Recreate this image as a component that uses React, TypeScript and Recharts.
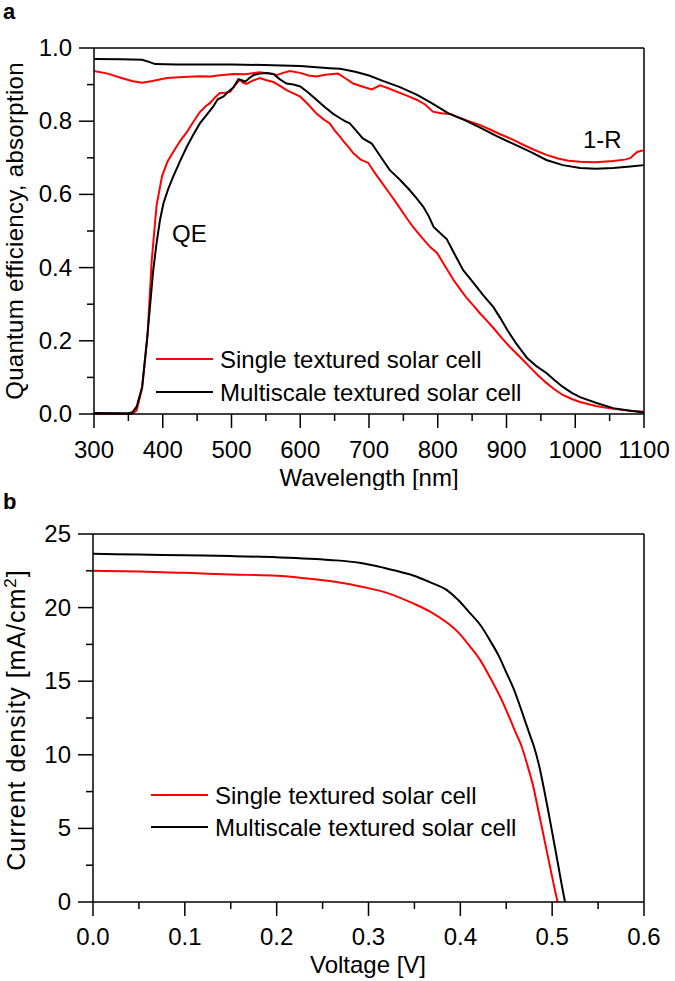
import { Line, LineChart, ReferenceLine, XAxis, YAxis } from "recharts";

// panel a: wavelength [nm], value
const QE_SINGLE: [number, number][] = [
  [300, 0], [340, 0], [355, 0], [362, 0.01], [370, 0.07], [378, 0.22], [384, 0.42], [391, 0.57],
  [399, 0.65], [407, 0.69], [415, 0.715], [425, 0.745], [435, 0.77], [445, 0.8], [454, 0.825],
  [462, 0.84], [469, 0.85], [476, 0.865], [483, 0.877], [491, 0.878], [498, 0.88], [505, 0.898],
  [512, 0.913], [517, 0.905], [522, 0.902], [530, 0.91], [541, 0.918], [551, 0.912], [561, 0.907],
  [570, 0.897], [580, 0.885], [590, 0.876], [600, 0.867], [612, 0.845], [624, 0.82], [634, 0.805],
  [643, 0.794], [650, 0.775], [658, 0.757], [663, 0.745], [670, 0.73], [677, 0.713], [688, 0.695],
  [699, 0.686], [708, 0.66], [716, 0.639], [728, 0.608], [740, 0.576], [752, 0.543], [764, 0.511],
  [776, 0.484], [789, 0.456], [799, 0.44], [811, 0.403], [823, 0.366], [833, 0.34], [842, 0.317],
  [852, 0.296], [861, 0.276], [871, 0.256], [881, 0.235], [893, 0.208], [905, 0.183], [920, 0.155],
  [934, 0.128], [946, 0.105], [958, 0.085], [970, 0.067], [982, 0.052], [995, 0.041], [1007, 0.033],
  [1030, 0.022], [1055, 0.014], [1080, 0.009], [1100, 0.006],
];

const QE_MULTI: [number, number][] = [
  [300, 0.003], [350, 0.002], [356, 0.005], [362, 0.02], [370, 0.074], [377, 0.2], [386, 0.39],
  [391, 0.467], [396, 0.53], [401, 0.576], [408, 0.615], [415, 0.648], [425, 0.69], [435, 0.73],
  [445, 0.765], [454, 0.794], [463, 0.815], [473, 0.839], [480, 0.86], [488, 0.867], [495, 0.88],
  [503, 0.893], [510, 0.915], [515, 0.912], [520, 0.908], [526, 0.918], [532, 0.926], [541, 0.93],
  [551, 0.932], [561, 0.929], [570, 0.915], [580, 0.903], [590, 0.9], [600, 0.895], [612, 0.878],
  [624, 0.858], [636, 0.838], [648, 0.82], [658, 0.808], [665, 0.8], [672, 0.794], [681, 0.775],
  [691, 0.753], [704, 0.739], [717, 0.703], [730, 0.667], [745, 0.64], [759, 0.612], [769, 0.59],
  [779, 0.566], [787, 0.54], [794, 0.511], [803, 0.495], [813, 0.478], [825, 0.435], [837, 0.393],
  [852, 0.358], [866, 0.325], [881, 0.292], [891, 0.262], [901, 0.23], [915, 0.19], [930, 0.153],
  [944, 0.13], [958, 0.112], [970, 0.092], [982, 0.074], [995, 0.058], [1007, 0.046], [1031, 0.03],
  [1055, 0.016], [1080, 0.009], [1100, 0.004],
];

const ABS_SINGLE: [number, number][] = [
  [300, 0.937], [320, 0.93], [340, 0.918], [355, 0.91], [370, 0.905], [385, 0.91], [406, 0.918],
  [430, 0.921], [454, 0.923], [470, 0.922], [480, 0.925], [503, 0.929], [520, 0.928], [541, 0.934],
  [556, 0.93], [566, 0.926], [575, 0.932], [585, 0.937], [600, 0.932], [612, 0.925], [624, 0.922],
  [636, 0.927], [648, 0.929], [655, 0.93], [665, 0.918], [677, 0.903], [690, 0.895], [704, 0.887],
  [716, 0.898], [728, 0.89], [740, 0.881], [755, 0.87], [770, 0.858], [782, 0.845], [793, 0.826],
  [805, 0.822], [818, 0.82], [830, 0.81], [845, 0.8], [861, 0.79], [875, 0.778], [890, 0.765],
  [910, 0.749], [925, 0.735], [940, 0.722], [958, 0.708], [975, 0.698], [990, 0.692], [1007, 0.689],
  [1030, 0.688], [1055, 0.691], [1072, 0.695], [1080, 0.699], [1090, 0.716], [1100, 0.721],
];

const ABS_MULTI: [number, number][] = [
  [300, 0.97], [340, 0.969], [370, 0.968], [380, 0.962], [389, 0.956], [420, 0.955], [500, 0.955],
  [560, 0.953], [600, 0.951], [643, 0.945], [658, 0.943], [680, 0.935], [700, 0.925], [720, 0.91],
  [745, 0.893], [770, 0.872], [790, 0.851], [815, 0.822], [837, 0.805], [861, 0.783], [885, 0.76],
  [910, 0.738], [935, 0.716], [958, 0.694], [982, 0.68], [1007, 0.672], [1030, 0.67], [1055, 0.672],
  [1080, 0.676], [1100, 0.68],
];

// panel b: voltage [V], current density [mA/cm2]
const IV_SINGLE: [number, number][] = [
  [0, 22.5], [0.05, 22.45], [0.1, 22.36], [0.15, 22.25], [0.2, 22.16], [0.23, 22.0], [0.258, 21.8],
  [0.294, 21.4], [0.32, 21.0], [0.348, 20.3], [0.368, 19.7], [0.385, 19.0], [0.398, 18.3],
  [0.41, 17.4], [0.422, 16.4], [0.432, 15.3], [0.446, 13.6], [0.455, 12.3], [0.461, 11.4],
  [0.466, 10.7], [0.473, 9.3], [0.48, 7.7], [0.485, 6.2], [0.49, 4.7], [0.495, 3.2], [0.5, 1.7],
  [0.503, 0.8], [0.506, 0],
];

const IV_MULTI: [number, number][] = [
  [0, 23.65], [0.05, 23.6], [0.1, 23.55], [0.15, 23.5], [0.2, 23.42], [0.258, 23.24], [0.29, 23.05],
  [0.312, 22.78], [0.33, 22.5], [0.348, 22.2], [0.368, 21.7], [0.385, 21.2], [0.398, 20.5],
  [0.41, 19.66], [0.422, 18.8], [0.432, 17.8], [0.442, 16.7], [0.45, 15.6], [0.458, 14.5],
  [0.465, 13.3], [0.471, 12.2], [0.476, 11.3], [0.48, 10.6], [0.486, 9.2], [0.491, 7.7],
  [0.496, 6.1], [0.501, 4.4], [0.506, 2.7], [0.51, 1.3], [0.514, 0],
];

const WL_MAJOR = [300, 400, 500, 600, 700, 800, 900, 1000, 1100];
const WL_TICKS = [300, 350, 400, 450, 500, 550, 600, 650, 700, 750, 800, 850, 900, 950, 1000, 1050, 1100];
const QE_MAJOR = [0, 0.2, 0.4, 0.6, 0.8, 1.0];
const QE_TICKS = [0, 0.1, 0.2, 0.3, 0.4, 0.5, 0.6, 0.7, 0.8, 0.9, 1.0];
const V_MAJOR = [0, 0.1, 0.2, 0.3, 0.4, 0.5, 0.6];
const V_TICKS = [0, 0.05, 0.1, 0.15, 0.2, 0.25, 0.3, 0.35, 0.4, 0.45, 0.5, 0.55, 0.6];
const J_MAJOR = [0, 5, 10, 15, 20, 25];
const J_TICKS = [0, 2.5, 5, 7.5, 10, 12.5, 15, 17.5, 20, 22.5, 25];

const LEGEND_LABELS = ["Single textured solar cell", "Multiscale textured solar cell"];

const RED = "#ff0000";
const BLACK = "#000000";
const FONT = "'Liberation Sans', Arial, sans-serif";
const FS = 24;

const toRows = (pts: [number, number][]) => pts.map(([x, y]) => ({ x, y }));
const isMajor = (v: number, majors: number[]) => majors.some((m) => Math.abs(m - v) < 1e-6);

function xTick(majors: number[], digits: number, labelDy: number) {
  return (props: any) => {
    const { x, y, payload } = props;
    const major = isMajor(payload.value, majors);
    return (
      <g>
        <line x1={x} x2={x} y1={y} y2={y + (major ? 14 : 7)} stroke={BLACK} strokeWidth={1.5} />
        {major && (
          <text x={x} y={y + labelDy} textAnchor="middle" fontSize={FS} fontFamily={FONT} fill={BLACK}>
            {payload.value.toFixed(digits)}
          </text>
        )}
      </g>
    );
  };
}

function yTick(majors: number[], digits: number) {
  return (props: any) => {
    const { x, y, payload } = props;
    const major = isMajor(payload.value, majors);
    return (
      <g>
        <line x1={x} x2={x - (major ? 15 : 7)} y1={y} y2={y} stroke={BLACK} strokeWidth={1.5} />
        {major && (
          <text x={x - 22} y={y + 8} textAnchor="end" fontSize={FS} fontFamily={FONT} fill={BLACK}>
            {payload.value.toFixed(digits)}
          </text>
        )}
      </g>
    );
  };
}

function LegendBlock({ x, y, gap }: { x: number; y: number; gap: number }) {
  return (
    <g fontFamily={FONT} fontSize={FS}>
      {LEGEND_LABELS.map((label, i) => (
        <g key={label}>
          <line x1={x} x2={x + 57} y1={y + i * gap} y2={y + i * gap} stroke={i === 0 ? RED : BLACK} strokeWidth={2} />
          <text x={x + 64} y={y + i * gap + 9} fill={BLACK}>
            {label}
          </text>
        </g>
      ))}
    </g>
  );
}

const axisLine = { stroke: BLACK, strokeWidth: 1.5 };

function PanelA() {
  return (
    <LineChart width={675} height={490} margin={{ top: 48, right: 31, left: 0, bottom: 0 }}>
      <XAxis
        dataKey="x"
        type="number"
        domain={[300, 1100]}
        ticks={WL_TICKS}
        interval={0}
        allowDuplicatedCategory={false}
        height={76}
        axisLine={axisLine}
        tickLine={false}
        tickSize={0}
        tickMargin={0}
        tick={xTick(WL_MAJOR, 0, 44)}
      />
      <YAxis
        type="number"
        domain={[0, 1]}
        ticks={QE_TICKS}
        interval={0}
        width={94}
        axisLine={axisLine}
        tickLine={false}
        tickSize={0}
        tickMargin={0}
        tick={yTick(QE_MAJOR, 1)}
      />
      <ReferenceLine y={1} stroke={BLACK} strokeWidth={1.5} />
      <ReferenceLine x={1100} stroke={BLACK} strokeWidth={1.5} />
      <Line data={toRows(ABS_SINGLE)} dataKey="y" stroke={RED} strokeWidth={2} dot={false} type="linear" isAnimationActive={false} />
      <Line data={toRows(QE_SINGLE)} dataKey="y" stroke={RED} strokeWidth={2} dot={false} type="linear" isAnimationActive={false} />
      <Line data={toRows(ABS_MULTI)} dataKey="y" stroke={BLACK} strokeWidth={2} dot={false} type="linear" isAnimationActive={false} />
      <Line data={toRows(QE_MULTI)} dataKey="y" stroke={BLACK} strokeWidth={2} dot={false} type="linear" isAnimationActive={false} />
      <text x={3} y={19} fontSize={22} fontWeight="bold" fontFamily={FONT}>a</text>
      <text x={172} y={242} fontSize={FS} fontFamily={FONT}>QE</text>
      <text x={583} y={148} fontSize={FS} fontFamily={FONT}>1-R</text>
      <text x={23} y={231} transform="rotate(-90, 23, 231)" textAnchor="middle" fontSize={FS} letterSpacing={0.3} fontFamily={FONT}>
        Quantum efficiency, absorption
      </text>
      <text x={369} y={486} textAnchor="middle" fontSize={FS} fontFamily={FONT}>Wavelength [nm]</text>
      <LegendBlock x={156} y={359} gap={33} />
    </LineChart>
  );
}

function PanelB() {
  return (
    <LineChart width={675} height={491} margin={{ top: 44, right: 31, left: 0, bottom: 0 }}>
      <XAxis
        dataKey="x"
        type="number"
        domain={[0, 0.6]}
        ticks={V_TICKS}
        interval={0}
        allowDuplicatedCategory={false}
        height={79}
        axisLine={axisLine}
        tickLine={false}
        tickSize={0}
        tickMargin={0}
        tick={xTick(V_MAJOR, 1, 43)}
      />
      <YAxis
        type="number"
        domain={[0, 25]}
        ticks={J_TICKS}
        interval={0}
        width={93}
        axisLine={axisLine}
        tickLine={false}
        tickSize={0}
        tickMargin={0}
        tick={yTick(J_MAJOR, 0)}
      />
      <ReferenceLine y={25} stroke={BLACK} strokeWidth={1.5} />
      <ReferenceLine x={0.6} stroke={BLACK} strokeWidth={1.5} />
      <Line data={toRows(IV_SINGLE)} dataKey="y" stroke={RED} strokeWidth={2} dot={false} type="monotone" isAnimationActive={false} />
      <Line data={toRows(IV_MULTI)} dataKey="y" stroke={BLACK} strokeWidth={2} dot={false} type="monotone" isAnimationActive={false} />
      <text x={3} y={19} fontSize={22} fontWeight="bold" fontFamily={FONT}>b</text>
      <text x={25} y={230} transform="rotate(-90, 25, 230)" textAnchor="middle" fontSize={25} letterSpacing={1} fontFamily={FONT}>
        Current density [mA/cm<tspan dy={-9} fontSize={17}>2</tspan><tspan dy={9}>]</tspan>
      </text>
      <text x={368} y={483} textAnchor="middle" fontSize={FS} fontFamily={FONT}>Voltage [V]</text>
      <LegendBlock x={151} y={305} gap={32} />
    </LineChart>
  );
}

export default function App() {
  return (
    <div style={{ position: "absolute", left: 0, top: 0, width: 675, height: 981, background: "#fff" }}>
      <PanelA />
      <PanelB />
    </div>
  );
}
